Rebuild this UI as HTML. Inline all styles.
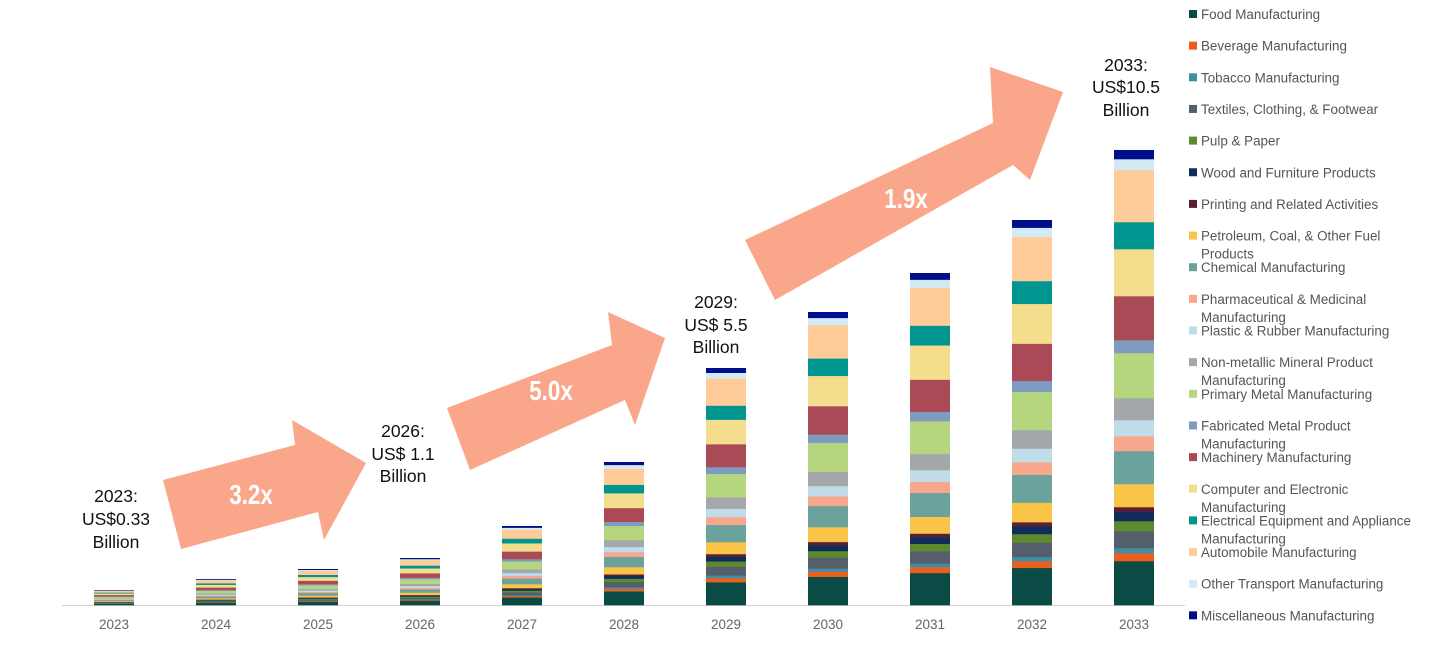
<!DOCTYPE html>
<html><head><meta charset="utf-8"><style>
body{margin:0;background:#fff;width:1432px;height:652px;overflow:hidden;font-family:"Liberation Sans",sans-serif}
</style></head><body>
<svg id="s" width="1432" height="652" xmlns="http://www.w3.org/2000/svg">
<line x1="62" y1="605.5" x2="1185" y2="605.5" stroke="#d0d0d0" stroke-width="1"/>
<g fill="#F9A68A">
<polygon points="163,480 295,445 292,420 366,463 324,540 318,512 181,549"/>
<polygon points="447,408 612,345 608,312 665,338 635,425 625,400 470,470"/>
<polygon points="745,240 993,123 990,67 1063,92 1030,180 1013,165 775,300"/>
</g>
<g fill="#fff" font-weight="bold" font-size="28" text-anchor="middle">
<text transform="translate(251,504) scale(0.8,1)">3.2x</text>
<text transform="translate(551,400) scale(0.8,1)">5.0x</text>
<text transform="translate(906,208) scale(0.8,1)">1.9x</text>
</g>
<g font-size="17.5" fill="#111" text-anchor="middle">
<text x="116" y="502">2023:</text><text x="116" y="525">US$0.33</text><text x="116" y="548">Billion</text>
<text x="403" y="437">2026:</text><text x="403" y="460">US$ 1.1</text><text x="403" y="482">Billion</text>
<text x="716" y="308">2029:</text><text x="716" y="331">US$ 5.5</text><text x="716" y="353">Billion</text>
<text x="1126" y="71">2033:</text><text x="1126" y="93">US$10.5</text><text x="1126" y="116">Billion</text>
</g>
<g id="bars"></g>
<g id="leg" font-size="13.4" fill="#555"></g>
</svg>
<script>
var cols=["#0B4B45","#E8601C","#3F8EA5","#555F6B","#5E8A2E","#0F2D5A","#5A1F33","#F9C448","#6BA39C","#F7A88C","#BFDCE8","#A5A8AA","#B5D67F","#7E9BC0","#AA4A57","#F5DD8E","#00968F","#FFCB99","#D3EAF4","#000E8C"];
var segs=[44,8,5,17,10,9,5,23,33,15,16,22,45,13,44,47,27,52,11,9];
var tot=segs.reduce((a,b)=>a+b,0);
var tops=[590,579,569,558,526,462,368,312,273,220,150];
var years=[2023,2024,2025,2026,2027,2028,2029,2030,2031,2032,2033];
var ns="http://www.w3.org/2000/svg",g=document.getElementById('bars');
for(var i=0;i<11;i++){var cx=114+i*102,h=605-tops[i],y=605;
 for(var k=0;k<20;k++){var sh=segs[k]/tot*h;var r=document.createElementNS(ns,'rect');
 r.setAttribute('x',cx-20);r.setAttribute('width',40);r.setAttribute('y',y-sh);r.setAttribute('height',sh+0.3);r.setAttribute('fill',cols[k]);g.appendChild(r);y-=sh;}
 var t=document.createElementNS(ns,'text');t.setAttribute('x',cx);t.setAttribute('y',629);t.setAttribute('text-anchor','middle');t.setAttribute('font-size','13.5');t.setAttribute('fill','#666');t.textContent=years[i];g.appendChild(t);}
var names=[["Food Manufacturing"],["Beverage Manufacturing"],["Tobacco Manufacturing"],["Textiles, Clothing, & Footwear"],["Pulp & Paper"],["Wood and Furniture Products"],["Printing and Related Activities"],["Petroleum, Coal, & Other Fuel","Products"],["Chemical Manufacturing"],["Pharmaceutical & Medicinal","Manufacturing"],["Plastic & Rubber Manufacturing"],["Non-metallic Mineral Product","Manufacturing"],["Primary Metal Manufacturing"],["Fabricated Metal Product","Manufacturing"],["Machinery Manufacturing"],["Computer and Electronic","Manufacturing"],["Electrical Equipment and Appliance","Manufacturing"],["Automobile Manufacturing"],["Other Transport Manufacturing"],["Miscellaneous Manufacturing"]];
var L=document.getElementById('leg');
for(var k=0;k<20;k++){var y=14+k*31.65;var r=document.createElementNS(ns,'rect');r.setAttribute('x',1189);r.setAttribute('y',y-4);r.setAttribute('width',8);r.setAttribute('height',8);r.setAttribute('fill',cols[k]);L.appendChild(r);
 for(var j=0;j<names[k].length;j++){var t=document.createElementNS(ns,'text');t.setAttribute('x',1201);t.setAttribute('y',y+5+j*18);t.textContent=names[k][j];L.appendChild(t);}}
</script>
</body></html>
